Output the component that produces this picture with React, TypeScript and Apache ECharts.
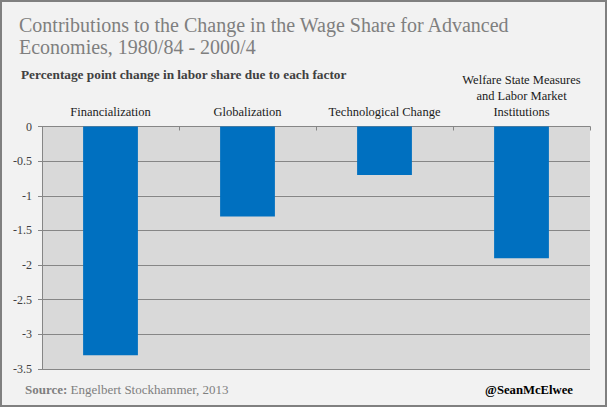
import React, { useEffect, useRef } from "react";
import * as echarts from "echarts";

const categories = [
  "Financialization",
  "Globalization",
  "Technological Change",
  "Welfare State Measures\nand Labor Market\nInstitutions",
];
const values = [-3.3, -1.3, -0.7, -1.9];

const FONT = "Liberation Serif";

export default function App() {
  const ref = useRef<HTMLDivElement>(null);
  useEffect(() => {
    if (!ref.current) return;
    const chart = echarts.init(ref.current, null, { renderer: "svg" });
    chart.setOption({
      animation: false,
      backgroundColor: "#f2f2f2",
      textStyle: { fontFamily: FONT },
      grid: { left: 42, right: 17, top: 126.5, bottom: 38, containLabel: false },
      title: [
        {
          text: "Contributions to the Change in the Wage Share for Advanced\nEconomies, 1980/84 - 2000/4",
          left: 19,
          top: 14,
          padding: 0,
          textStyle: {
            fontFamily: FONT,
            fontSize: 20,
            fontWeight: "normal",
            color: "#7f7f7f",
            lineHeight: 22,
          },
        },
        {
          text: "Percentage point change in labor share due to each factor",
          left: 21,
          top: 66,
          padding: 0,
          textStyle: {
            fontFamily: FONT,
            fontSize: 13.3,
            fontWeight: "bold",
            color: "#404040",
            lineHeight: 16,
          },
        },
      ],
      xAxis: {
        type: "category",
        data: categories,
        position: "top",
        axisLine: { onZero: false, lineStyle: { color: "#868686", width: 1 } },
        axisTick: { show: true, inside: true, length: 4, lineStyle: { color: "#868686" } },
        axisLabel: {
          color: "#1a1a1a",
          fontFamily: FONT,
          fontSize: 12.5,
          lineHeight: 16,
          margin: 7,
          interval: 0,
        },
        splitLine: { show: false },
      },
      yAxis: {
        type: "value",
        min: -3.5,
        max: 0,
        interval: 0.5,
        axisLine: { show: true, lineStyle: { color: "#868686" } },
        axisTick: { show: true, length: 4, lineStyle: { color: "#868686" } },
        axisLabel: {
          color: "#404040",
          fontFamily: FONT,
          fontSize: 12,
          margin: 10,
        },
        splitLine: { show: true, lineStyle: { color: "#868686", width: 1 } },
        splitArea: { show: true, areaStyle: { color: ["#d9d9d9", "#d9d9d9"] } },
      },
      series: [
        {
          type: "bar",
          data: values,
          barWidth: "40%",
          itemStyle: { color: "#0070c0" },
        },
      ],
      graphic: [
        {
          type: "rect",
          shape: { x: 1, y: 1, width: 605, height: 405 },
          style: { fill: "none", stroke: "#808080", lineWidth: 2 },
          silent: true,
        },
        {
          type: "text",
          x: 25,
          y: 389,
          style: {
            text: "{b|Source:} Engelbert Stockhammer, 2013",
            fill: "#7f7f7f",
            fontFamily: FONT,
            fontSize: 13,
            align: "left",
            verticalAlign: "middle",
            rich: {
              b: { fontWeight: "bold", fontFamily: FONT, fontSize: 13, fill: "#7f7f7f" },
            },
          },
        },
        {
          type: "text",
          x: 573,
          y: 390,
          style: {
            text: "@SeanMcElwee",
            fill: "#000",
            fontFamily: FONT,
            fontSize: 12.7,
            fontWeight: "bold",
            align: "right",
            verticalAlign: "middle",
          },
        },
      ],
    });
    return () => chart.dispose();
  }, []);
  return (
    <div
      ref={ref}
      style={{ position: "fixed", left: 0, top: 0, width: 607, height: 407 }}
    />
  );
}
